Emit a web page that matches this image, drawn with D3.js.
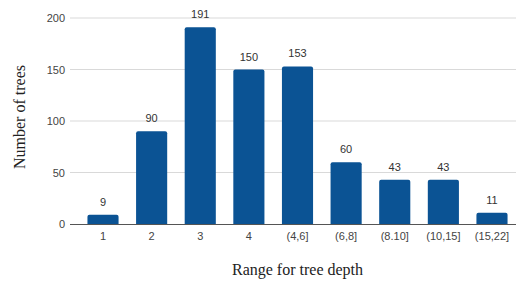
<!DOCTYPE html>
<html>
<head>
<meta charset="utf-8">
<script src="https://cdn.jsdelivr.net/npm/d3@7"></script>
<style>
  body { margin: 0; background: #fff; }
  svg { display: block; }
</style>
</head>
<body>
<script>
(function(){

    //chart data
    var categories = ["1", "2", "3", "4", "(4,6]", "(6,8]", "(8.10]", "(10,15]", "(15,22]"];
    var counts = [9, 90, 191, 150, 153, 60, 43, 43, 11];
    var yTicks = [0, 50, 100, 150, 200];

    var width = 517, height = 282;

    var svg = d3.select("body")
        .append("svg")
        .attr("width", width)
        .attr("height", height);

    //scales
    var x = d3.scaleBand()
        .domain(categories)
        .range([78.7, 516.3])
        .paddingInner(0.36)
        .paddingOuter(0.18);

    var y = d3.scaleLinear()
        .domain([0, 200])
        .range([224, 18]);

    //gridlines
    svg.selectAll(".grid")
        .data(yTicks.filter(function(d){ return d > 0; }))
        .enter()
        .append("line")
        .attr("class", "grid")
        .attr("x1", 70)
        .attr("x2", 516)
        .attr("y1", function(d){ return y(d); })
        .attr("y2", function(d){ return y(d); })
        .attr("stroke", "#d9d9d9")
        .attr("stroke-width", 1);

    //y tick labels
    svg.selectAll(".ytick")
        .data(yTicks)
        .enter()
        .append("text")
        .attr("class", "ytick")
        .attr("x", 65)
        .attr("y", function(d){ return y(d) + 4; })
        .attr("text-anchor", "end")
        .attr("font-family", "Liberation Sans, Arial, sans-serif")
        .attr("font-size", 11)
        .attr("fill", "#444")
        .text(function(d){ return d; });

    //bars with rounded tops
    svg.selectAll(".bar")
        .data(counts)
        .enter()
        .append("path")
        .attr("class", "bar")
        .attr("fill", "#0b5394")
        .attr("d", function(d, i){
            var x0 = x(categories[i]), w = x.bandwidth();
            var y0 = y(d), yb = y(0), r = 2;
            return "M" + x0 + "," + yb +
                "V" + (y0 + r) +
                "Q" + x0 + "," + y0 + " " + (x0 + r) + "," + y0 +
                "H" + (x0 + w - r) +
                "Q" + (x0 + w) + "," + y0 + " " + (x0 + w) + "," + (y0 + r) +
                "V" + yb + "Z";
        });

    //value labels
    svg.selectAll(".vlabel")
        .data(counts)
        .enter()
        .append("text")
        .attr("class", "vlabel")
        .attr("x", function(d, i){ return x(categories[i]) + x.bandwidth() / 2; })
        .attr("y", function(d){ return y(d) - 9; })
        .attr("text-anchor", "middle")
        .attr("font-family", "Liberation Sans, Arial, sans-serif")
        .attr("font-size", 11)
        .attr("fill", "#333")
        .text(function(d){ return d; });

    //baseline
    svg.append("line")
        .attr("x1", 70)
        .attr("x2", 516)
        .attr("y1", y(0) + 0.5)
        .attr("y2", y(0) + 0.5)
        .attr("stroke", "#555")
        .attr("stroke-width", 1);

    //x tick labels
    svg.selectAll(".xtick")
        .data(categories)
        .enter()
        .append("text")
        .attr("class", "xtick")
        .attr("x", function(d){ return x(d) + x.bandwidth() / 2; })
        .attr("y", 240)
        .attr("text-anchor", "middle")
        .attr("font-family", "Liberation Sans, Arial, sans-serif")
        .attr("font-size", 11)
        .attr("fill", "#444")
        .text(function(d){ return d; });

    //axis titles
    svg.append("text")
        .attr("x", 297.5)
        .attr("y", 275)
        .attr("text-anchor", "middle")
        .attr("font-family", "Liberation Serif, DejaVu Serif, serif")
        .attr("font-size", 16)
        .attr("fill", "#222")
        .text("Range for tree depth");

    svg.append("text")
        .attr("transform", "translate(24.5,117) rotate(-90)")
        .attr("text-anchor", "middle")
        .attr("font-family", "Liberation Serif, DejaVu Serif, serif")
        .attr("font-size", 16)
        .attr("fill", "#222")
        .text("Number of trees");

})();
</script>
</body>
</html>
